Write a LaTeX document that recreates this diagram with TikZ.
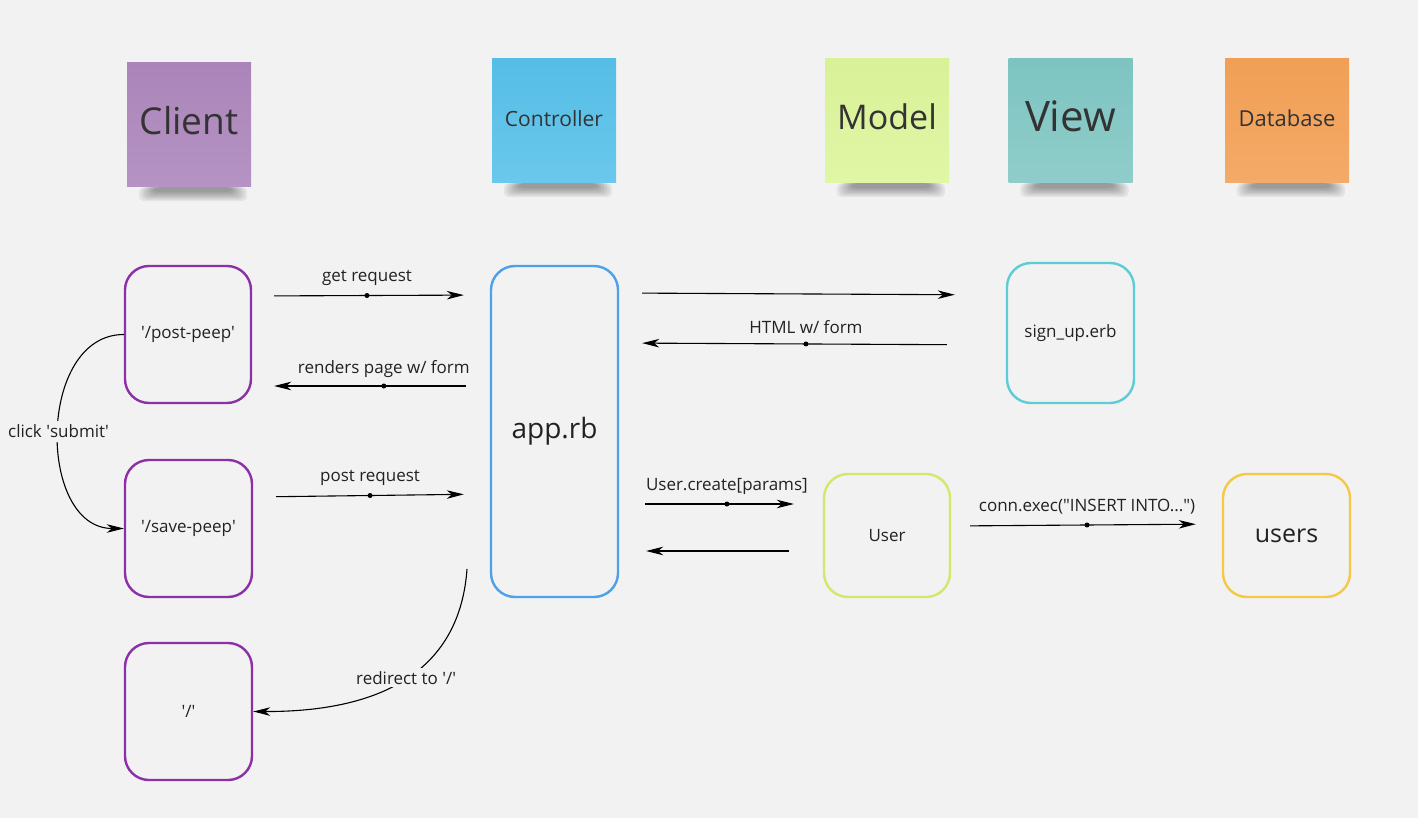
\documentclass[tikz,border=0pt]{standalone}
\usepackage{fontspec}
\setmainfont{Open Sans}
\usetikzlibrary{arrows.meta,calc}
\definecolor{bg}{HTML}{F2F2F2}
\definecolor{notetext}{HTML}{333333}
\definecolor{boxtext}{HTML}{222222}
\definecolor{clientA}{HTML}{AB85B9}\definecolor{clientB}{HTML}{B593C4}
\definecolor{ctrlA}{HTML}{55BDE6}\definecolor{ctrlB}{HTML}{6AC8EB}
\definecolor{modelA}{HTML}{D9F198}\definecolor{modelB}{HTML}{E1F6A6}
\definecolor{viewA}{HTML}{7DC4C1}\definecolor{viewB}{HTML}{90CDCA}
\definecolor{dbA}{HTML}{F19F55}\definecolor{dbB}{HTML}{F4AA68}
\definecolor{purplebox}{HTML}{8C30A8}
\definecolor{bluebox}{HTML}{4DA0EA}
\definecolor{cyanbox}{HTML}{5CCDD6}
\definecolor{limebox}{HTML}{D3E86A}
\definecolor{yellowbox}{HTML}{F5C845}
\newcommand\q{\textquotesingle}
\newcommand\noteshadow[1]{%
  \foreach \k in {0,...,6}{%
    \fill[black,opacity=0.06,rounded corners=5pt]
      ([xshift={12pt+\k*2.5pt}]#1.south west) rectangle
      ([xshift={-4pt-\k*2.5pt},yshift={-14pt+\k*1.5pt}]#1.south east);}}
\begin{document}
\begin{tikzpicture}[x=1pt,y=-1pt,
  note/.style={minimum width=124pt,minimum height=124pt,inner sep=0pt,text=notetext,shading=axis,shading angle=0},
  box/.style={draw,line width=2.4pt,rounded corners=24pt,inner sep=0pt,font=\fontsize{17}{20}\selectfont,text=boxtext},
  arr/.style={line width=1.1pt,-{Stealth[length=17pt,width=8.5pt,inset=5pt]}},
  dot/.style={circle,fill=black,inner sep=0pt,minimum size=5pt},
  lbl/.style={font=\fontsize{17}{20}\selectfont,text=boxtext}]
\useasboundingbox[fill=bg] (0,0) rectangle (1418,818);

% sticky notes
\node[note,top color=clientA,bottom color=clientB,font=\fontsize{37}{44}\selectfont] (nclient) at (189,125) {\raisebox{9pt}{Client}};
\node[note,top color=ctrlA,bottom color=ctrlB,font=\fontsize{21}{25}\selectfont] (nctrl) at (554,121) {\raisebox{5pt}{Controller}};
\node[note,top color=modelA,bottom color=modelB,font=\fontsize{34}{40}\selectfont] (nmodel) at (887,121) {\raisebox{8pt}{Model}};
\node[note,top color=viewA,bottom color=viewB,font=\fontsize{42}{50}\selectfont] (nview) at (1070.5,121) {\raisebox{9pt}{View}};
\node[note,top color=dbA,bottom color=dbB,font=\fontsize{22}{26}\selectfont] (ndb) at (1287,121) {\raisebox{6pt}{Database}};
\noteshadow{nclient}\noteshadow{nctrl}\noteshadow{nmodel}\noteshadow{nview}\noteshadow{ndb}

% boxes
\node[box,draw=purplebox,minimum width=126pt,minimum height=137pt] (pp) at (188,334.5) {\q/post-peep\q};
\node[box,draw=purplebox,minimum width=127pt,minimum height=137pt] (sp) at (188.5,528.5) {\q/save-peep\q};
\node[box,draw=purplebox,minimum width=127pt,minimum height=137pt] (rt) at (188.5,711.5) {\q/\q};
\node[box,draw=bluebox,minimum width=127pt,minimum height=331pt,font=\fontsize{28}{33}\selectfont] (app) at (554.5,431.5) {app.rb};
\node[box,draw=cyanbox,minimum width=127pt,minimum height=140pt] (su) at (1070.5,333) {sign\_up.erb};
\node[box,draw=limebox,minimum width=126pt,minimum height=123pt] (us) at (887,535.5) {User};
\node[box,draw=yellowbox,minimum width=127pt,minimum height=123pt,font=\fontsize{25}{30}\selectfont] (db) at (1286.5,535.5) {users};

% straight connectors
\draw[arr,shorten <=22pt,shorten >=26pt] (pp.east |- 0,296) -- (app.west |- 0,295)
  node[dot,pos=0.483]{} node[lbl,pos=0.483,yshift=17.5pt]{get request};
\draw[arr,shorten <=24pt,shorten >=22pt] (app.west |- 0,386) -- (pp.east |- 0,386)
  node[dot,pos=0.446]{} node[lbl,pos=0.446,yshift=17pt]{renders page w/ form};
\draw[arr,shorten <=24pt,shorten >=26pt] (pp.east |- 0,497) -- (app.west |- 0,494)
  node[dot,pos=0.496]{} node[lbl,pos=0.496,yshift=17.5pt]{post request};
\draw[arr,shorten <=23pt,shorten >=51pt] (app.east |- 0,293) -- (su.west |- 0,295);
\draw[arr,shorten <=59pt,shorten >=23pt] (su.west |- 0,345) -- (app.east |- 0,343)
  node[dot,pos=0.517]{} node[lbl,pos=0.517,yshift=17pt]{HTML w/ form};
\draw[arr,shorten <=26pt,shorten >=29pt] (app.east |- 0,504) -- (us.west |- 0,504)
  node[dot,pos=0.529]{} node[lbl,pos=0.529,yshift=18pt]{User.create[params]};
\draw[arr,shorten <=34pt,shorten >=27pt] (us.west |- 0,551) -- (app.east |- 0,551);
\draw[arr,shorten <=19pt,shorten >=26pt] (us.east |- 0,526) -- (db.west |- 0,524)
  node[dot,pos=0.502]{} node[lbl,pos=0.502,yshift=18pt]{conn.exec(\textquotedbl INSERT INTO...\textquotedbl)};

% curved connectors
\draw[arr] (pp.west) to[out=180,in=180,looseness=1.15]
  node[lbl,midway,fill=bg,inner sep=4pt]{click \q submit\q} (sp.west);
\coordinate (rs) at (467,569);
\draw[arr] (rs) .. controls (462,640) and (420,712) .. (rt.east)
  node[lbl,pos=0.57,fill=bg,inner sep=3pt]{redirect to \q/\q};
\end{tikzpicture}
\end{document}
